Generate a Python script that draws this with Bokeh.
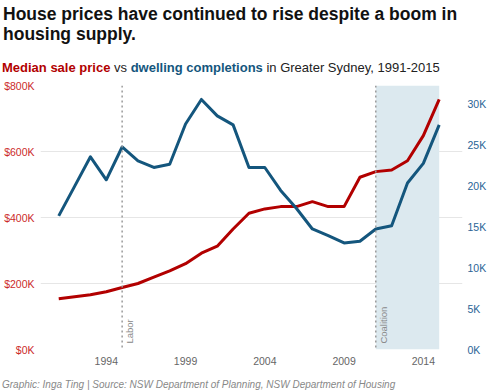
from bokeh.plotting import figure
from bokeh.models import (Range1d, LinearAxis, FixedTicker, BoxAnnotation, Span, Label, Div)
from bokeh.layouts import column
from bokeh.embed import file_html
from bokeh.resources import INLINE
import math

# ---- data ----
years = list(range(1991, 2016))
median_price = [154000, 160000, 166000, 175000, 188000, 200000, 219000, 238000, 260000,
                292000, 313000, 365000, 413000, 426000, 433000, 433000, 448000, 433000,
                433000, 522000, 539000, 544000, 572000, 648000, 758000]
completions = [16300, 19900, 23500, 20700, 24700, 23000, 22200, 22600, 27500,
               30500, 28500, 27400, 22200, 22200, 19400, 17200, 14700, 13900,
               13000, 13200, 14700, 15100, 20300, 22700, 27400]

x_ticks = [1994, 1999, 2004, 2009, 2014]
left_ticks = [0, 200000, 400000, 600000, 800000]
left_labels = ["$0K", "$200K", "$400K", "$600K", "$800K"]
right_ticks = [0, 5000, 10000, 15000, 20000, 25000, 30000]
right_labels = ["0K", "5K", "10K", "15K", "20K", "25K", "30K"]

labor_year = 1995
coalition_start, coalition_end = 2011, 2015

title_lines = ["House prices have continued to rise despite a boom in", "housing supply."]
sub_parts = ["Median sale price", "vs", "dwelling completions", "in Greater Sydney, 1991-2015"]
footer = "Graphic: Inga Ting | Source: NSW Department of Planning, NSW Department of Housing"

RED = "#b20000"
BLUE = "#14567d"
RED_TXT = "#cc2a2a"
BLUE_TXT = "#2a6496"
FONT = "Liberation Sans"
W = 500

# ---- header ----
header_html = (
    f'<div style="position:relative;width:{W}px;height:78px;font-family:\'{FONT}\';">'
    f'<div style="position:absolute;left:3px;top:5.1px;font-size:17.5px;line-height:19.6px;'
    f'font-weight:bold;color:#111;white-space:nowrap;">{title_lines[0]}<br>{title_lines[1]}</div>'
    f'<div style="position:absolute;left:2px;top:60.7px;font-size:13px;line-height:13px;'
    f'color:#222;white-space:nowrap;">'
    f'<b style="color:{RED}">{sub_parts[0]}</b> {sub_parts[1]} '
    f'<b style="color:{BLUE}">{sub_parts[2]}</b> {sub_parts[3]}</div>'
    f'</div>'
)
header = Div(text=header_html, width=W, height=78, margin=(0, 0, 0, 0))

# ---- chart ----
p = figure(width=W, height=293, output_backend="svg", toolbar_location=None,
           x_range=Range1d(1989.85, 2016.47), y_range=Range1d(0, 800000),
           min_border_left=40, min_border_right=38, min_border_top=7, min_border_bottom=22,
           margin=(0, 0, 0, 0))
p.extra_y_ranges = {"right": Range1d(0, 32200)}
p.outline_line_color = None
p.background_fill_color = "white"
p.border_fill_color = "white"

xa = p.xaxis[0]
xa.ticker = FixedTicker(ticks=x_ticks)
ya = p.yaxis[0]
ya.ticker = FixedTicker(ticks=left_ticks)
ya.major_label_overrides = {t: l for t, l in zip(left_ticks, left_labels)}
ra = LinearAxis(y_range_name="right", ticker=FixedTicker(ticks=right_ticks))
ra.major_label_overrides = {t: l for t, l in zip(right_ticks, right_labels)}
p.add_layout(ra, "right")

for ax, col in ((xa, "#666666"), (ya, RED_TXT), (ra, BLUE_TXT)):
    ax.axis_line_color = None
    ax.major_tick_line_color = None
    ax.minor_tick_line_color = None
    ax.major_tick_out = 0
    ax.major_tick_in = 0
    ax.minor_tick_out = 0
    ax.major_label_text_font = FONT
    ax.major_label_text_font_size = "10.5px"
    ax.major_label_text_color = col
xa.major_label_standoff = 7
ya.major_label_standoff = 6
ra.major_label_standoff = 5

p.xgrid.grid_line_color = None
p.ygrid.ticker = FixedTicker(ticks=left_ticks)
p.ygrid.grid_line_color = "#e6e6e6"
p.ygrid.grid_line_width = 1

p.add_layout(BoxAnnotation(left=coalition_start, right=coalition_end, fill_color="#dce9ef",
                           fill_alpha=1, line_color=None, level="underlay"))
for yr in (labor_year, coalition_start):
    p.add_layout(Span(location=yr, dimension="height", line_color="#9a9a9a",
                      line_width=1.5, line_dash="2 3"))
for yr, txt in ((labor_year, "Labor"), (coalition_start, "Coalition")):
    p.add_layout(Label(x=yr, y=18000, text=txt, angle=math.pi / 2, x_offset=2,
                       text_baseline="top", text_align="left", text_font=FONT,
                       text_font_size="9.5px", text_color="#888888"))

p.line(years, median_price, line_color=RED, line_width=3, line_join="round")
p.line(years, completions, y_range_name="right", line_color=BLUE, line_width=3, line_join="round")

# ---- footer ----
footer_html = (
    f'<div style="position:relative;width:{W}px;height:21px;font-family:\'{FONT}\';">'
    f'<div style="position:absolute;left:2px;top:9px;font-size:10px;line-height:10px;'
    f'font-style:italic;color:#888;white-space:nowrap;">{footer}</div></div>'
)
foot = Div(text=footer_html, width=W, height=21, margin=(0, 0, 0, 0))

layout = column(header, p, foot, spacing=0)
open("out.html", "w").write(file_html(layout, INLINE))
